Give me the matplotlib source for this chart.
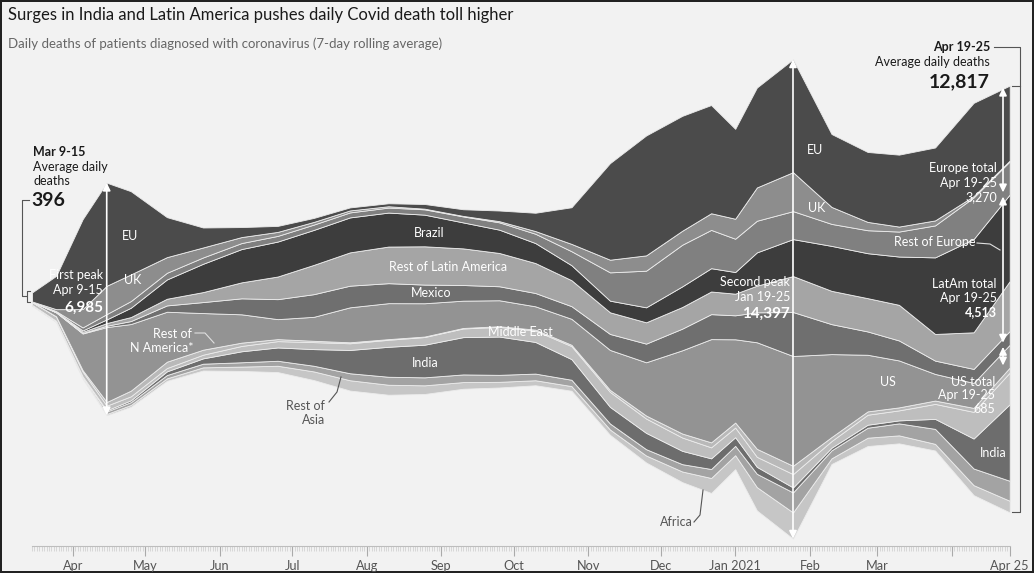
import numpy as np
import pandas as pd
import matplotlib.pyplot as plt
import matplotlib.dates as mdates
from matplotlib.lines import Line2D

W, H = 1034, 573

# 7-day rolling average of daily deaths, by region
dates = pd.to_datetime([
    '2020-03-15', '2020-03-25', '2020-04-05', '2020-04-15', '2020-04-25',
    '2020-05-10', '2020-05-25', '2020-06-10', '2020-06-25', '2020-07-10',
    '2020-07-25', '2020-08-10', '2020-08-25', '2020-09-10', '2020-09-25',
    '2020-10-10', '2020-10-25', '2020-11-10', '2020-11-25', '2020-12-10',
    '2020-12-22', '2021-01-01', '2021-01-10', '2021-01-25', '2021-02-10',
    '2021-02-25', '2021-03-10', '2021-03-25', '2021-04-10', '2021-04-25'])

eu = [272, 1000, 2700, 3095, 2500, 1200, 600, 300, 180, 120, 90, 90, 140, 200, 320,
      550, 1100, 2900, 3600, 3450, 3250, 2700, 3000, 3390, 2190, 2100, 2160, 2190, 2800, 2250]
uk = [5, 60, 550, 850, 800, 470, 300, 180, 120, 80, 60, 40, 20, 15, 35,
      80, 220, 380, 460, 420, 500, 600, 1000, 1170, 510, 250, 150, 150, 40, 25]
rest_europe = [3, 20, 90, 160, 200, 200, 190, 180, 170, 160, 150, 150, 160, 180, 220,
               280, 420, 850, 1100, 1250, 1150, 1000, 950, 840, 660, 690, 750, 960, 1250, 995]
brazil = [0, 4, 40, 110, 280, 580, 850, 1000, 1050, 1050, 1050, 1020, 950, 780, 700,
          600, 450, 350, 450, 620, 700, 650, 1000, 1110, 1350, 1350, 1450, 2300, 2800, 2600]
rest_latam = [1, 10, 40, 80, 120, 200, 300, 480, 680, 880, 1000, 1100, 1150, 1100, 1000,
              900, 780, 650, 640, 650, 680, 650, 800, 1080, 1000, 1000, 1070, 800, 1100, 1500]
mexico = [0, 1, 12, 40, 90, 190, 330, 480, 600, 680, 650, 600, 560, 470, 420,
          400, 380, 480, 560, 650, 750, 720, 900, 1320, 900, 700, 600, 400, 420, 413]
us = [8, 120, 1100, 2250, 2000, 1500, 1100, 850, 600, 720, 1050, 1080, 1000, 820, 780,
      700, 780, 1200, 1600, 2500, 3100, 2500, 3200, 3297, 2490, 1700, 1410, 800, 750, 685]
rest_n_america = [1, 5, 40, 110, 170, 190, 150, 100, 60, 40, 30, 20, 15, 15, 20,
                  30, 40, 60, 90, 120, 150, 150, 240, 250, 120, 100, 90, 100, 120, 150]
middle_east = [85, 130, 150, 140, 120, 100, 110, 160, 190, 210, 200, 210, 230, 260, 290,
               340, 390, 450, 430, 400, 330, 290, 300, 400, 200, 300, 300, 450, 800, 950]
india = [0, 2, 10, 35, 55, 110, 160, 330, 400, 500, 700, 900, 980, 1120, 1150,
         950, 620, 500, 490, 400, 320, 260, 210, 150, 80, 90, 90, 300, 900, 2300]
rest_asia = [20, 25, 35, 75, 85, 100, 110, 130, 150, 170, 210, 240, 240, 230, 210,
             200, 190, 180, 190, 220, 270, 280, 400, 600, 240, 300, 360, 450, 500, 600]
africa = [1, 12, 25, 40, 55, 75, 95, 130, 190, 260, 310, 300, 260, 200, 170,
          150, 140, 160, 210, 320, 450, 420, 700, 790, 170, 250, 240, 200, 300, 349]

# bottom -> top
layers = [africa, rest_asia, india, middle_east, rest_n_america, us,
          mexico, rest_latam, brazil, rest_europe, uk, eu]
colors = ['#c6c6c6', '#a3a3a3', '#6d6d6d', '#bebebe', '#b9b9b9', '#939393',
          '#6f6f6f', '#a5a5a5', '#3d3d3d', '#808080', '#8d8d8d', '#4b4b4b']

plt.rcParams['font.family'] = ['Lato', 'DejaVu Sans']

fig = plt.figure(figsize=(W / 100, H / 100), dpi=100)
fig.patch.set_facecolor('#f2f2f2')
fig.patch.set_edgecolor('#222222')
fig.patch.set_linewidth(1.5)

# pixel mapping of the original layout
apr1 = mdates.date2num(pd.Timestamp('2020-04-01'))
px_per_day = 2.408
center, px_per_death = 299, 0.0333


def x_at(px_x):
    return apr1 + (px_x - 73) / px_per_day


def y_at(px_y):
    return (center - px_y) / px_per_death


left_px, right_px = 15, 1030
ax = fig.add_axes([left_px / W, 0, (right_px - left_px) / W, 1])
ax.set_xlim(x_at(left_px), x_at(right_px))
ax.set_ylim(y_at(H), y_at(0))
ax.set_facecolor('none')

x = mdates.date2num(dates)
total = np.sum(layers, axis=0)

ax.stackplot(x, layers, colors=colors, baseline='sym',
             edgecolor='#ececec', linewidth=0.6, zorder=3)

# date axis
for s in ['top', 'left', 'right']:
    ax.spines[s].set_visible(False)
ax.spines['bottom'].set_position(('data', y_at(546)))
ax.spines['bottom'].set_bounds(x[0], x[-1])
ax.spines['bottom'].set_color('#bdbdbd')
ax.set_yticks([])
major = pd.to_datetime(['2020-04-01', '2020-05-01', '2020-06-01', '2020-07-01',
                        '2020-08-01', '2020-09-01', '2020-10-01', '2020-11-01',
                        '2020-12-01', '2021-01-01', '2021-02-01', '2021-03-01',
                        '2021-04-01', '2021-04-25'])
major_labels = ['Apr', 'May', 'Jun', 'Jul', 'Aug', 'Sep', 'Oct', 'Nov', 'Dec',
                'Jan 2021', 'Feb', 'Mar', '', 'Apr 25']
ax.set_xticks(mdates.date2num(major))
ax.set_xticklabels(major_labels)
ax.set_xticks(mdates.date2num(pd.date_range(dates[0], dates[-1])), minor=True)
ax.tick_params(axis='x', which='major', length=7, width=0.8, color='#aaaaaa',
               labelsize=9.2, labelcolor='#555555', pad=3)
ax.tick_params(axis='x', which='minor', length=3.5, width=0.5, color='#cccccc')


def v_arrow(xd, y0, y1, shrink=0):
    ax.annotate('', xy=(xd, y1), xytext=(xd, y0), zorder=6,
                arrowprops=dict(arrowstyle='<|-|>,head_length=0.45,head_width=0.22',
                                color='white', lw=1.2, shrinkA=shrink, shrinkB=shrink))


# peak arrows
v_arrow(x[3], -total[3] / 2, total[3] / 2)
v_arrow(x[23], -total[23] / 2, total[23] / 2)

# group totals at the last week
top_end = total[-1] / 2
europe_end = eu[-1] + uk[-1] + rest_europe[-1]
latam_end = brazil[-1] + rest_latam[-1] + mexico[-1]
us_end = us[-1]
xa = x_at(1003)
v_arrow(xa, top_end - europe_end, top_end, shrink=1.5)
v_arrow(xa, top_end - europe_end - latam_end, top_end - europe_end, shrink=1.5)
v_arrow(xa, top_end - europe_end - latam_end - us_end, top_end - europe_end - latam_end, shrink=1.5)


def txt(px_x, px_y, s, size=9, color='white', weight='normal', ha='center'):
    fig.text(px_x / W, 1 - px_y / H, s, fontsize=size, color=color,
             fontweight=weight, ha=ha, va='center', zorder=10)


def line(pts, color='#555555', lw=0.8):
    xs = [p[0] / W for p in pts]
    ys = [1 - p[1] / H for p in pts]
    fig.add_artist(Line2D(xs, ys, color=color, lw=lw, transform=fig.transFigure, zorder=10))


# titles
txt(8, 15, 'Surges in India and Latin America pushes daily Covid death toll higher',
    size=12, color='#1a1a1a', ha='left')
txt(8, 44, 'Daily deaths of patients diagnosed with coronavirus (7-day rolling average)',
    size=9.5, color='#666666', ha='left')

# left annotation
txt(33, 152, 'Mar 9-15', size=9, color='#1a1a1a', weight='bold', ha='left')
txt(33, 167, 'Average daily', size=9, color='#1a1a1a', ha='left')
txt(33, 181, 'deaths', size=9, color='#1a1a1a', ha='left')
txt(31, 200, '396', size=14, color='#1a1a1a', weight='bold', ha='left')
line([(29, 200), (22, 200), (22, 296), (26, 296)])
line([(30, 291), (27, 291), (27, 302), (30, 302)])

# right annotation
txt(990, 47, 'Apr 19-25', size=9, color='#1a1a1a', weight='bold', ha='right')
txt(990, 62, 'Average daily deaths', size=9, color='#1a1a1a', ha='right')
txt(990, 82, '12,817', size=14, color='#1a1a1a', weight='bold', ha='right')
top_px = center - top_end * px_per_death
bot_px = center + top_end * px_per_death
line([(994, 47), (1020, 47), (1020, bot_px), (1012, bot_px)])
line([(1012, top_px), (1020, top_px)])

# peaks
txt(103, 275, 'First peak', ha='right')
txt(103, 290, 'Apr 9-15', ha='right')
txt(103, 308, '6,985', size=11, weight='bold', ha='right')
txt(790, 282, 'Second peak', ha='right')
txt(790, 297, 'Jan 19-25', ha='right')
txt(790, 314, '14,397', size=11, weight='bold', ha='right')

# group totals
txt(997, 168, 'Europe total', ha='right')
txt(997, 183, 'Apr 19-25', ha='right')
txt(997, 197, '3,270', ha='right')
txt(997, 284, 'LatAm total', ha='right')
txt(997, 298, 'Apr 19-25', ha='right')
txt(997, 312, '4,513', weight='bold', ha='right')
txt(995, 382, 'US total', ha='right')
txt(995, 395, 'Apr 19-25', ha='right')
txt(995, 409, '685', ha='right')

# region labels
txt(130, 236, 'EU')
txt(815, 150, 'EU')
txt(133, 280, 'UK')
txt(817, 208, 'UK')
txt(429, 233, 'Brazil')
txt(448, 267, 'Rest of Latin America')
txt(431, 293, 'Mexico')
txt(520, 332, 'Middle East')
txt(425, 363, 'India')
txt(993, 453, 'India')
txt(888, 382, 'US')
txt(935, 242, 'Rest of Europe')
line([(977, 243), (990, 244), (1000, 250)], color='#e0e0e0')
txt(192, 334, 'Rest of', ha='right')
txt(193, 348, 'N America*', ha='right')
line([(195, 333), (205, 333), (214, 343)], color='#e0e0e0')
txt(325, 406, 'Rest of', color='#555555', ha='right')
txt(325, 420, 'Asia', color='#555555', ha='right')
line([(329, 402), (337, 392), (341, 377)])
txt(676, 522, 'Africa', color='#555555')
line([(694, 522), (700, 515), (703, 490)])

fig.savefig('out.png', dpi=100, facecolor=fig.get_facecolor(), edgecolor=fig.get_edgecolor())
